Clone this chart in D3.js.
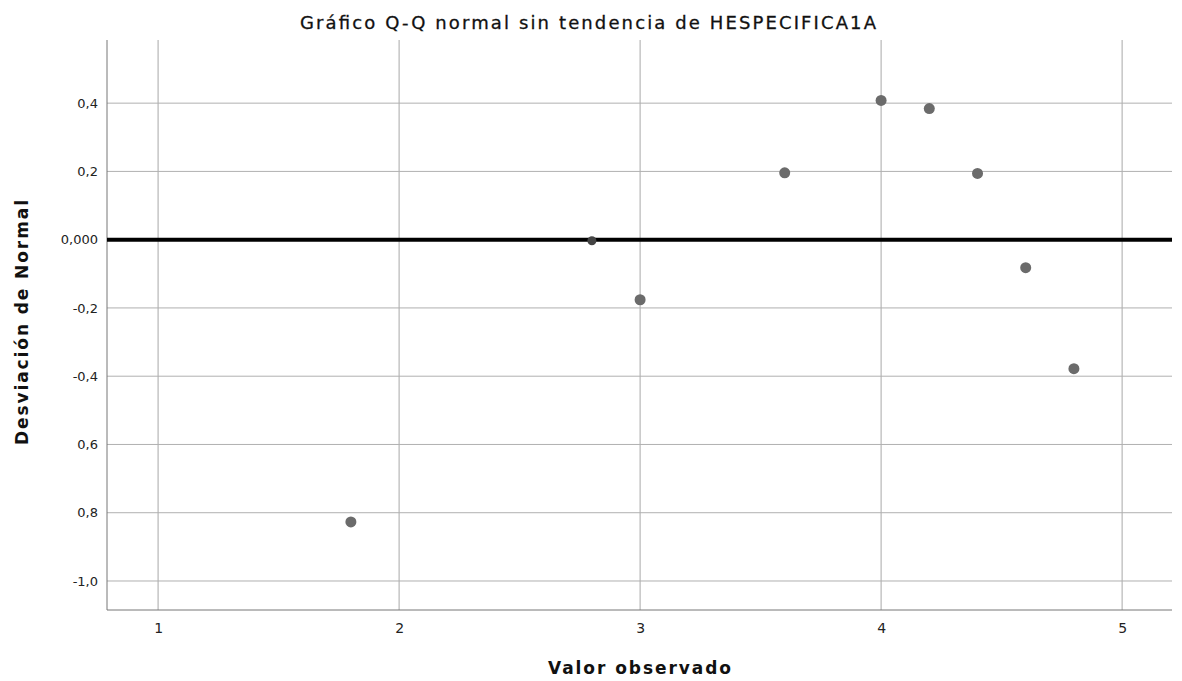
<!DOCTYPE html>
<html><head><meta charset="utf-8">
<script src="https://cdn.jsdelivr.net/npm/d3@7"></script>
<style>body{margin:0;background:#fff}svg{display:block;font-family:"Liberation Sans",Arial,sans-serif}</style>
</head><body>
<svg id="c" width="1182" height="681"></svg>
<script>
const observed = [1.8, 2.8, 3.0, 3.6, 4.0, 4.2, 4.4, 4.6, 4.8];
const deviation = [-0.827, -0.003, -0.176, 0.196, 0.408, 0.384, 0.194, -0.082, -0.378];
const xTicks = [1, 2, 3, 4, 5];
const yTicks = [0.4, 0.2, 0, -0.2, -0.4, -0.6, -0.8, -1.0];
const yTickLabels = ["0,4", "0,2", "0,000", "-0,2", "-0,4", "0,6", "0,8", "-1,0"];

const svg = d3.select("#c");
const L = 107, R = 1172, T = 40, B = 610;
const x = d3.scaleLinear().domain([0.788, 5.207]).range([L, R]);
const y = d3.scaleLinear().domain([-1.085, 0.585]).range([B, T]);

// gridlines
svg.append("g").selectAll("line").data(xTicks).join("line")
  .attr("x1", d => x(d)).attr("x2", d => x(d)).attr("y1", T).attr("y2", B)
  .attr("stroke", "#a8a8a8").attr("stroke-width", 1);
svg.append("g").selectAll("line").data(yTicks).join("line")
  .attr("x1", L).attr("x2", R).attr("y1", d => y(d)).attr("y2", d => y(d))
  .attr("stroke", "#b0b0b0").attr("stroke-width", 1);

// axes
const xAxis = d3.axisBottom(x).tickValues(xTicks).tickSize(0).tickPadding(13).tickFormat(d3.format("d"));
const gx = svg.append("g").attr("transform", `translate(0,${B})`).call(xAxis);
gx.select(".domain").attr("stroke", "#777").attr("d", `M${L},0H${R}`);
gx.selectAll("text").attr("font-size", 14).attr("fill", "#222").attr("font-family", "DejaVu Sans, sans-serif");

const yAxis = d3.axisLeft(y).tickValues(yTicks).tickSize(0).tickPadding(9)
  .tickFormat((d, i) => yTickLabels[i]);
const gy = svg.append("g").attr("transform", `translate(${L},0)`).call(yAxis);
gy.select(".domain").attr("stroke", "#777").attr("d", `M0,${T}V${B}`);
gy.selectAll("text").attr("font-size", 13).attr("fill", "#222")
  .attr("font-family", "DejaVu Sans, sans-serif");

// reference line
svg.append("line").attr("x1", L).attr("x2", R).attr("y1", y(0)).attr("y2", y(0))
  .attr("stroke", "#000").attr("stroke-width", 4);

// points
svg.append("g").selectAll("circle").data(observed).join("circle")
  .attr("cx", d => x(d)).attr("cy", (d, i) => y(deviation[i]))
  .attr("r", (d, i) => i === 1 ? 4.5 : 5.5).attr("fill", (d, i) => i === 1 ? "#444" : "#6b6b6b");

// titles
svg.append("text").attr("x", 300).attr("y", 29).attr("font-family", "DejaVu Sans, sans-serif")
  .attr("font-size", 18).attr("fill", "#111").attr("stroke", "#111").attr("stroke-width", 0.3)
  .attr("textLength", 576).attr("lengthAdjust", "spacing")
  .text("Gráfico Q-Q normal sin tendencia de HESPECIFICA1A");
svg.append("text").attr("x", 548).attr("y", 674).attr("font-family", "DejaVu Sans, sans-serif")
  .attr("font-size", 17).attr("font-weight", "bold").attr("fill", "#111")
  .attr("textLength", 183).attr("lengthAdjust", "spacing").text("Valor observado");
svg.append("text").attr("transform", "translate(28,445) rotate(-90)").attr("font-family", "DejaVu Sans, sans-serif")
  .attr("font-size", 17).attr("font-weight", "bold").attr("fill", "#111")
  .attr("textLength", 245).attr("lengthAdjust", "spacing").text("Desviación de Normal");
</script>
</body></html>
